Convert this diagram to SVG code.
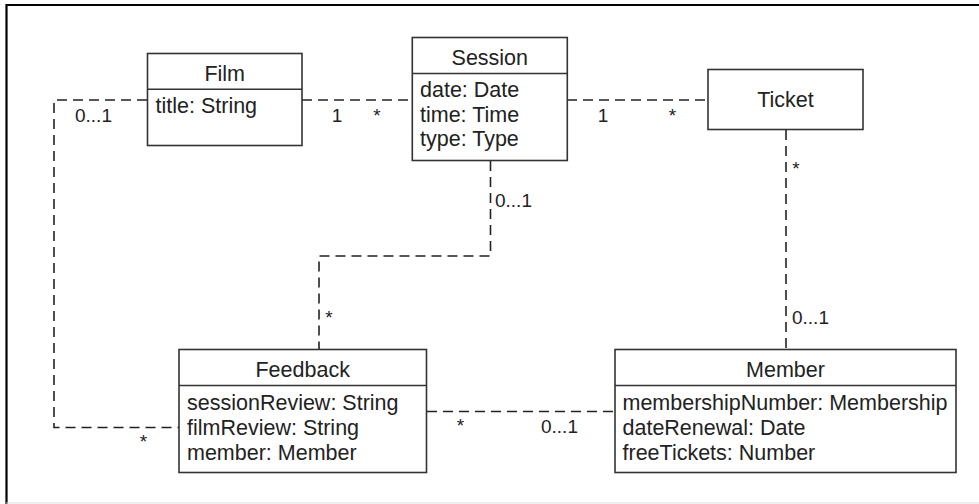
<svg xmlns="http://www.w3.org/2000/svg" width="979" height="504" viewBox="0 0 979 504">
<style>
.box{fill:#fff;stroke:#333;stroke-width:1.6}
.div{stroke:#333;stroke-width:1.6}
.t{font-family:"Liberation Sans",Arial,sans-serif;font-size:21.5px;fill:#222}
.c{text-anchor:middle}
.m{font-family:"Liberation Sans",Arial,sans-serif;font-size:19px;fill:#222}
.ln{fill:none;stroke:#222;stroke-width:1.6;stroke-dasharray:10 6}
</style>
<rect x="0" y="0" width="979" height="504" fill="#fff"/>
<g id="frame">
<line x1="6" y1="5" x2="979" y2="5" stroke="#000" stroke-width="2.2"/>
<line x1="6.5" y1="4" x2="6.5" y2="504" stroke="#000" stroke-width="2.2"/>
<line x1="6" y1="503" x2="979" y2="503" stroke="#ddd" stroke-width="1"/>
</g>
<g id="connectors">
<path class="ln" d="M302,100 H412"/>
<path class="ln" d="M567,100 H708"/>
<path class="ln" d="M490.5,161 V256 H319 V349"/>
<path class="ln" d="M786,130 V349"/>
<path class="ln" d="M147,100 H54 V427.5 H179"/>
<path class="ln" d="M427,411.5 H615"/>
<text class="m" x="75" y="121.5">0...1</text>
<text class="m" x="337" y="121.5" text-anchor="middle">1</text>
<text class="m" x="377" y="121.5" text-anchor="middle">*</text>
<text class="m" x="603" y="121.5" text-anchor="middle">1</text>
<text class="m" x="672.5" y="121.5" text-anchor="middle">*</text>
<text class="m" x="495" y="206.5">0...1</text>
<text class="m" x="329" y="323.5" text-anchor="middle">*</text>
<text class="m" x="796" y="174.5" text-anchor="middle">*</text>
<text class="m" x="792" y="324">0...1</text>
<text class="m" x="143.5" y="448" text-anchor="middle">*</text>
<text class="m" x="460.5" y="431.5" text-anchor="middle">*</text>
<text class="m" x="541" y="433">0...1</text>
</g>
<g id="film">
<rect class="box" x="147.5" y="53.5" width="154.5" height="92"/>
<line class="div" x1="147.5" y1="89.3" x2="302" y2="89.3"/>
<text class="t c" x="224.7" y="80.8">Film</text>
<text class="t" x="155.5" y="113">title: String</text>
</g>
<g id="session">
<rect class="box" x="412.3" y="37.5" width="155" height="123"/>
<line class="div" x1="412.3" y1="73.5" x2="567.3" y2="73.5"/>
<text class="t c" x="489.8" y="64.5">Session</text>
<text class="t" x="420" y="97">date: Date</text>
<text class="t" x="420" y="121.5">time: Time</text>
<text class="t" x="420" y="146">type: Type</text>
</g>
<g id="ticket">
<rect class="box" x="708" y="69.5" width="155" height="60"/>
<text class="t c" x="785.5" y="107">Ticket</text>
</g>
<g id="feedback">
<rect class="box" x="179" y="349.5" width="247.5" height="123"/>
<line class="div" x1="179" y1="385.5" x2="426.5" y2="385.5"/>
<text class="t c" x="302.7" y="377">Feedback</text>
<text class="t" x="187" y="410">sessionReview: String</text>
<text class="t" x="187" y="435">filmReview: String</text>
<text class="t" x="187" y="459.5">member: Member</text>
</g>
<g id="member">
<rect class="box" x="615" y="349.5" width="341" height="123"/>
<line class="div" x1="615" y1="385.5" x2="956" y2="385.5"/>
<text class="t c" x="785.5" y="377">Member</text>
<text class="t" x="622.5" y="410">membershipNumber: Membership</text>
<text class="t" x="622.5" y="435">dateRenewal: Date</text>
<text class="t" x="622.5" y="459.5">freeTickets: Number</text>
</g>
</svg>
